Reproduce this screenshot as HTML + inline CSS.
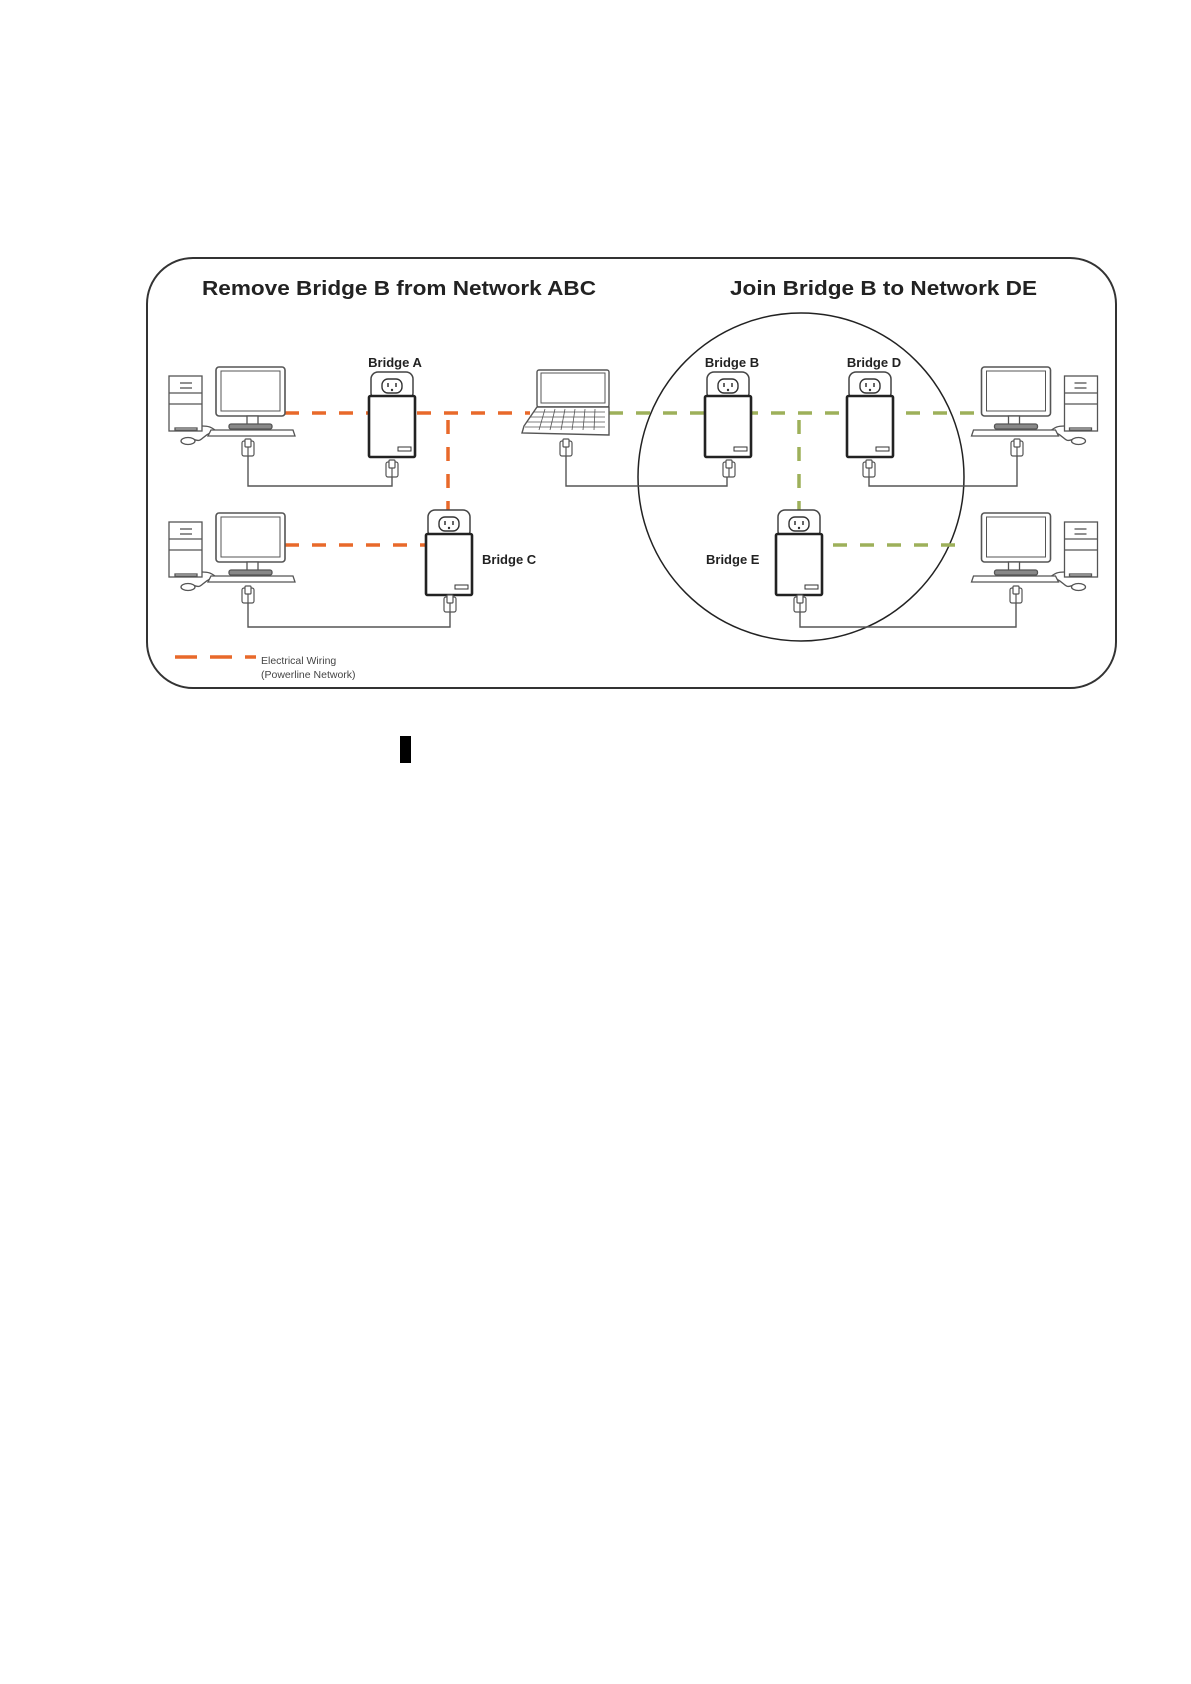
<!DOCTYPE html>
<html><head><meta charset="utf-8"><style>
html,body{margin:0;padding:0;background:#fff;width:1191px;height:1684px;overflow:hidden}
svg{display:block}
text{font-family:"Liberation Sans",sans-serif}
</style></head><body>
<svg width="1191" height="1684" viewBox="0 0 1191 1684" xmlns="http://www.w3.org/2000/svg">
<defs>
<g id="plug" fill="#fff" stroke="#555" stroke-width="1.2">
  <rect x="-6" y="0" width="12" height="15" rx="2"/>
  <rect x="-3" y="-2" width="6" height="8" rx="1"/>
  <line x1="0" y1="6" x2="0" y2="15"/>
</g>
<g id="bridge">
  <rect x="2" y="-24" width="42" height="28" rx="7" fill="#fff" stroke="#444" stroke-width="1.5"/>
  <rect x="13" y="-17" width="20" height="14" rx="6" fill="#fff" stroke="#333" stroke-width="1.4"/>
  <line x1="19" y1="-13" x2="19" y2="-9" stroke="#333" stroke-width="1.5"/>
  <line x1="27" y1="-13" x2="27" y2="-9" stroke="#333" stroke-width="1.5"/>
  <circle cx="23" cy="-6" r="1.2" fill="#333"/>
  <rect x="0" y="0" width="46" height="61" rx="1.5" fill="#fff" stroke="#222" stroke-width="2.6"/>
  <rect x="29" y="51" width="13" height="4" fill="#fff" stroke="#333" stroke-width="1"/>
</g>
<g id="comp" fill="#fff" stroke="#555" stroke-width="1.3">
  <rect x="169" y="376" width="33" height="55"/>
  <line x1="169" y1="393" x2="202" y2="393"/>
  <line x1="169" y1="404" x2="202" y2="404"/>
  <line x1="180" y1="383" x2="192" y2="383"/>
  <line x1="180" y1="388" x2="192" y2="388"/>
  <rect x="175" y="428" width="22" height="2" />
  <path d="M202 426 C210 426 212 428 215 430" fill="none"/>
  <path d="M210 433 C200 438 202 443 193 439" fill="none"/>
  <ellipse cx="188" cy="441" rx="7" ry="3.5"/>
  <rect x="216" y="367" width="69" height="49" rx="3" stroke-width="1.6"/>
  <rect x="221" y="371" width="59" height="40" stroke-width="1"/>
  <rect x="247" y="416" width="11" height="9"/>
  <rect x="229" y="424" width="43" height="5" rx="2" fill="#888"/>
  <path d="M211 430 L293 430 L295 436 L208 436 Z"/>
</g>
</defs>

<rect x="147" y="258" width="969" height="430" rx="46" fill="none" stroke="#333" stroke-width="2"/>
<text x="202" y="295" font-size="20.5" font-weight="bold" fill="#222" textLength="394" lengthAdjust="spacingAndGlyphs">Remove Bridge B from Network ABC</text>
<text x="730" y="295" font-size="20.5" font-weight="bold" fill="#222" textLength="307" lengthAdjust="spacingAndGlyphs">Join Bridge B to Network DE</text>

<ellipse cx="801" cy="477" rx="163" ry="164" fill="none" stroke="#222" stroke-width="1.5"/>

<g fill="none" stroke="#555" stroke-width="1.4">
  <polyline points="248,456 248,486 392,486 392,477"/>
  <polyline points="248,603 248,627 450,627 450,612"/>
  <polyline points="566,456 566,486 727,486 727,477"/>
  <polyline points="869,477 869,486 1017,486 1017,456"/>
  <polyline points="800,612 800,627 1016,627 1016,603"/>
</g>

<g stroke="#e8692a" stroke-width="3.5" stroke-dasharray="14,13" fill="none">
  <line x1="285" y1="413" x2="369" y2="413"/>
  <line x1="417" y1="413" x2="530" y2="413"/>
  <line x1="448" y1="420" x2="448" y2="512"/>
  <line x1="285" y1="545" x2="426" y2="545"/>
  <line x1="175" y1="657" x2="256" y2="657" stroke-dasharray="22,13"/>
</g>
<g stroke="#9db05a" stroke-width="3.5" stroke-dasharray="14,13" fill="none">
  <line x1="609" y1="413" x2="982" y2="413"/>
  <line x1="799" y1="420" x2="799" y2="512"/>
  <line x1="833" y1="545" x2="963" y2="545"/>
</g>

<use href="#comp"/>
<use href="#comp" transform="translate(0,146)"/>
<use href="#comp" transform="translate(1266.5,0) scale(-1,1)"/>
<use href="#comp" transform="translate(1266.5,146) scale(-1,1)"/>
<use href="#plug" x="248" y="441"/>
<use href="#plug" x="248" y="588"/>
<use href="#plug" x="1017" y="441"/>
<use href="#plug" x="1016" y="588"/>

<g fill="#fff" stroke="#555" stroke-width="1.4">
  <rect x="537" y="370" width="72" height="37" rx="2"/>
  <rect x="541" y="373" width="64" height="30" stroke-width="1"/>
  <path d="M537 407 L609 407 L609 435 L522 433 L524 426 Z"/>
  <g stroke-width="0.8">
    <line x1="533" y1="412" x2="605" y2="412"/><line x1="530" y1="417" x2="605" y2="417"/>
    <line x1="527" y1="422" x2="605" y2="422"/><line x1="525" y1="427" x2="605" y2="427"/>
    <line x1="545" y1="409" x2="539" y2="430"/><line x1="555" y1="409" x2="550" y2="430"/>
    <line x1="565" y1="409" x2="561" y2="430"/><line x1="575" y1="409" x2="572" y2="430"/>
    <line x1="585" y1="409" x2="583" y2="430"/><line x1="595" y1="409" x2="594" y2="430"/>
  </g>
</g>
<use href="#plug" x="566" y="441"/>

<use href="#bridge" x="369" y="396"/>
<use href="#bridge" x="426" y="534"/>
<use href="#bridge" x="705" y="396"/>
<use href="#bridge" x="847" y="396"/>
<use href="#bridge" x="776" y="534"/>
<use href="#plug" x="392" y="462"/>
<use href="#plug" x="450" y="597"/>
<use href="#plug" x="729" y="462"/>
<use href="#plug" x="869" y="462"/>
<use href="#plug" x="800" y="597"/>

<g font-size="13" font-weight="bold" fill="#222">
  <text x="395" y="367" text-anchor="middle">Bridge A</text>
  <text x="482" y="564">Bridge C</text>
  <text x="732" y="367" text-anchor="middle">Bridge B</text>
  <text x="874" y="367" text-anchor="middle">Bridge D</text>
  <text x="706" y="564">Bridge E</text>
</g>
<text x="261" y="664" font-size="10.5" fill="#444">Electrical Wiring</text>
<text x="261" y="678" font-size="10.5" fill="#444">(Powerline Network)</text>

<rect x="400" y="736" width="11" height="27" fill="#000"/>
</svg>
</body></html>
